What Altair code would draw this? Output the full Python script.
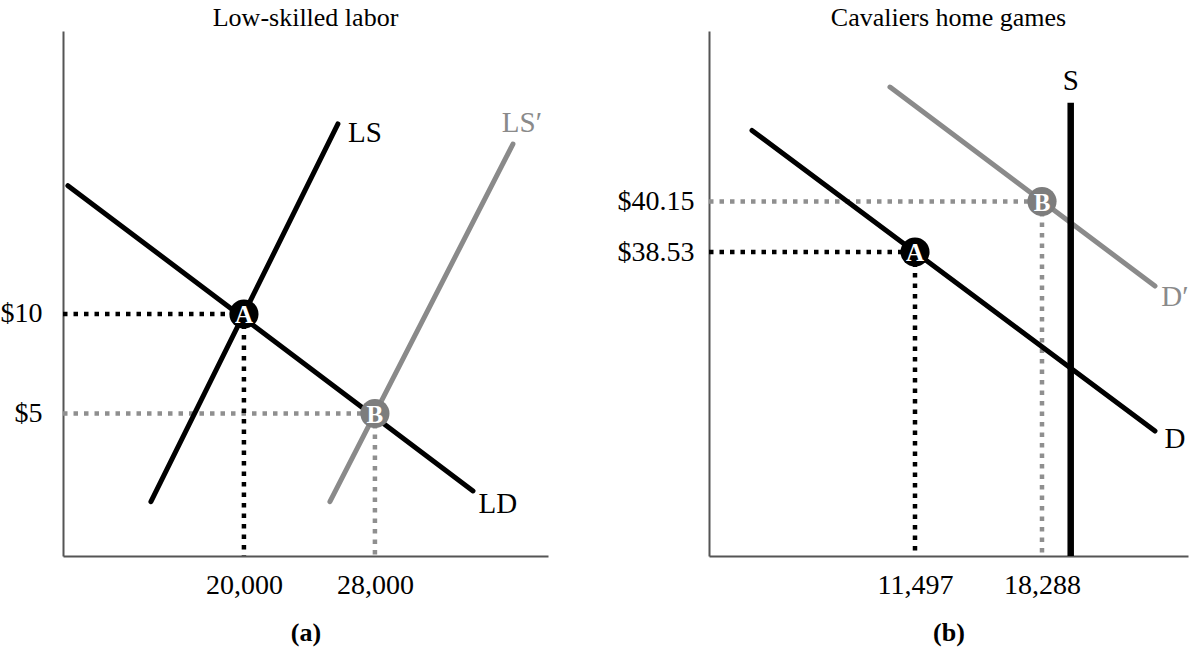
import altair as alt
import pandas as pd

FONT = "Liberation Serif"
BLACK = "#000000"
GRAY = "#8a8a8a"
DOT_GRAY = "#8f8f8f"
PT_GRAY = "#7d7d7d"
AXIS_COL = "#555555"

# ---------------- Panel (a): Low-skilled labor ----------------
a_title = "Low-skilled labor"
a_x_domain = [8950, 38570]
a_y_domain = [-2.16, 24.22]
a_x_ticks = [20000, 28000]
a_y_ticks = [5, 10]

# curves: name, colour group, two endpoints (quantity, wage)
a_curve_name = ["LD", "LD", "LS", "LS", "LS′", "LS′"]
a_curve_grp = ["black", "black", "black", "black", "gray", "gray"]
a_curve_q = [9250, 33990, 14320, 25740, 25252, 36428]
a_curve_w = [16.45, 1.11, 0.57, 19.55, 0.57, 18.54]

# equilibrium points
a_pt_name = ["A", "B"]
a_pt_grp = ["black", "gray"]
a_pt_q = [20000, 28000]
a_pt_w = [10, 5]

# curve labels
a_lab_text = ["LS", "LS′", "LD"]
a_lab_grp = ["black", "gray", "black"]
a_lab_q = [27390, 36977, 35512]
a_lab_w = [19.10, 19.60, 0.45]

# ---------------- Panel (b): Cavaliers home games ----------------
b_title = "Cavaliers home games"
b_x_domain = [482, 26095]
b_y_domain = [28.78, 45.62]
b_x_ticks = [11497, 18288]
b_y_ticks = [38.53, 40.15]

b_curve_name = ["D", "D", "D′", "D′", "S", "S"]
b_curve_grp = ["black", "black", "gray", "gray", "supply", "supply"]
b_curve_q = [2781, 24330, 10160, 24330, 19823, 19823]
b_curve_p = [42.43, 32.79, 43.82, 37.44, 43.32, 28.78]

b_pt_name = ["A", "B"]
b_pt_grp = ["black", "gray"]
b_pt_q = [11497, 18288]
b_pt_p = [38.53, 40.15]

b_lab_text = ["S", "D′", "D"]
b_lab_grp = ["black", "gray", "black"]
b_lab_q = [19823, 25400, 25400]
b_lab_p = [44.02, 37.09, 32.53]


def panel(title, letter, xdom, ydom, xticks, yticks, yfmt, ylabpad,
          cname, cgrp, cq, cv, pname, pgrp, pq, pv,
          ltext, lgrp, lq, lv, width, height):
    xs = alt.Scale(domain=xdom, nice=False, zero=False)
    ys = alt.Scale(domain=ydom, nice=False, zero=False)
    xaxis = alt.Axis(values=xticks, format=",.0f", title=letter, ticks=False, grid=False,
                     labelFont=FONT, labelFontSize=28, labelColor="#000",
                     labelPadding=15, domainColor=AXIS_COL, domainWidth=2,
                     titleFont=FONT, titleFontSize=26, titleFontWeight="bold",
                     titleColor="#000", titlePadding=20, labelOverlap=False)
    yaxis = alt.Axis(values=yticks, format=yfmt, title=None, ticks=False, grid=False,
                     labelFont=FONT, labelFontSize=28, labelColor="#000",
                     labelPadding=ylabpad, domainColor=AXIS_COL, domainWidth=2,
                     labelOverlap=False)

    curves = pd.DataFrame({"name": cname, "grp": cgrp, "q": cq, "v": cv})
    pts = pd.DataFrame({"name": pname, "grp": pgrp, "q": pq, "v": pv})
    labs = pd.DataFrame({"text": ltext, "grp": lgrp, "q": lq, "v": lv})

    # dotted guide lines from each equilibrium to the axes
    guides = pd.DataFrame({
        "grp": pgrp + pgrp,
        "x": [xdom[0]] * len(pq) + pq,
        "x2": pq + pq,
        "y": pv + pv,
        "y2": pv + [ydom[0]] * len(pv),
    })

    col = alt.Scale(domain=["black", "gray", "supply"], range=[BLACK, GRAY, BLACK])
    dcol = alt.Scale(domain=["black", "gray"], range=["#000000", DOT_GRAY])
    pcol = alt.Scale(domain=["black", "gray"], range=["#000000", PT_GRAY])
    tcol = alt.Scale(domain=["black", "gray"], range=["#000000", GRAY])

    base_x = alt.X("q:Q", scale=xs, axis=xaxis)
    base_y = alt.Y("v:Q", scale=ys, axis=yaxis)

    guide_layer = alt.Chart(guides).mark_rule(
        strokeWidth=4.5, strokeDash=[4.5, 6], strokeCap="butt"
    ).encode(
        x=alt.X("x:Q", scale=xs, axis=xaxis), x2="x2:Q",
        y=alt.Y("y:Q", scale=ys, axis=yaxis), y2="y2:Q",
        color=alt.Color("grp:N", scale=dcol, legend=None),
    )

    line_layer = alt.Chart(curves).transform_filter(
        alt.datum.grp != "supply"
    ).mark_line(strokeWidth=5, strokeCap="round").encode(
        x=base_x, y=base_y, detail="name:N",
        color=alt.Color("grp:N", scale=col, legend=None),
    )
    supply_layer = alt.Chart(curves).transform_filter(
        alt.datum.grp == "supply"
    ).mark_line(strokeWidth=6.5, strokeCap="butt").encode(
        x=base_x, y=base_y, detail="name:N",
        color=alt.Color("grp:N", scale=col, legend=None),
    )

    pt_layer = alt.Chart(pts).mark_circle(size=850, opacity=1).encode(
        x=base_x, y=base_y,
        color=alt.Color("grp:N", scale=pcol, legend=None),
    )
    pt_text = alt.Chart(pts).mark_text(
        font=FONT, fontSize=25, fontWeight="bold", color="white",
        align="center", baseline="middle", dy=1
    ).encode(x=base_x, y=base_y, text="name:N")

    lab_layer = alt.Chart(labs).mark_text(
        font=FONT, fontSize=29, align="center", baseline="middle"
    ).encode(
        x=base_x, y=base_y, text="text:N",
        color=alt.Color("grp:N", scale=tcol, legend=None),
    )

    return alt.layer(
        guide_layer, line_layer, supply_layer, pt_layer, pt_text, lab_layer
    ).properties(
        width=width, height=height,
        title=alt.TitleParams(title, font=FONT, fontSize=26, fontWeight="normal",
                              color="#000", anchor="middle", offset=0),
    ).resolve_scale(color="independent")


pa = panel(a_title, "(a)", a_x_domain, a_y_domain, a_x_ticks, a_y_ticks, "$.0f", 21,
           a_curve_name, a_curve_grp, a_curve_q, a_curve_w,
           a_pt_name, a_pt_grp, a_pt_q, a_pt_w,
           a_lab_text, a_lab_grp, a_lab_q, a_lab_w, 485, 525)
pb = panel(b_title, "(b)", b_x_domain, b_y_domain, b_x_ticks, b_y_ticks, "$.2f", 15,
           b_curve_name, b_curve_grp, b_curve_q, b_curve_p,
           b_pt_name, b_pt_grp, b_pt_q, b_pt_p,
           b_lab_text, b_lab_grp, b_lab_q, b_lab_p, 479, 525)

chart = alt.hconcat(pa, pb, spacing=69).configure_view(stroke=None).properties(
    padding={"left": 0, "top": 5, "right": 2, "bottom": 2},
    background="white",
)

chart.save("out.html", embed_options={"renderer": "svg", "actions": False})
